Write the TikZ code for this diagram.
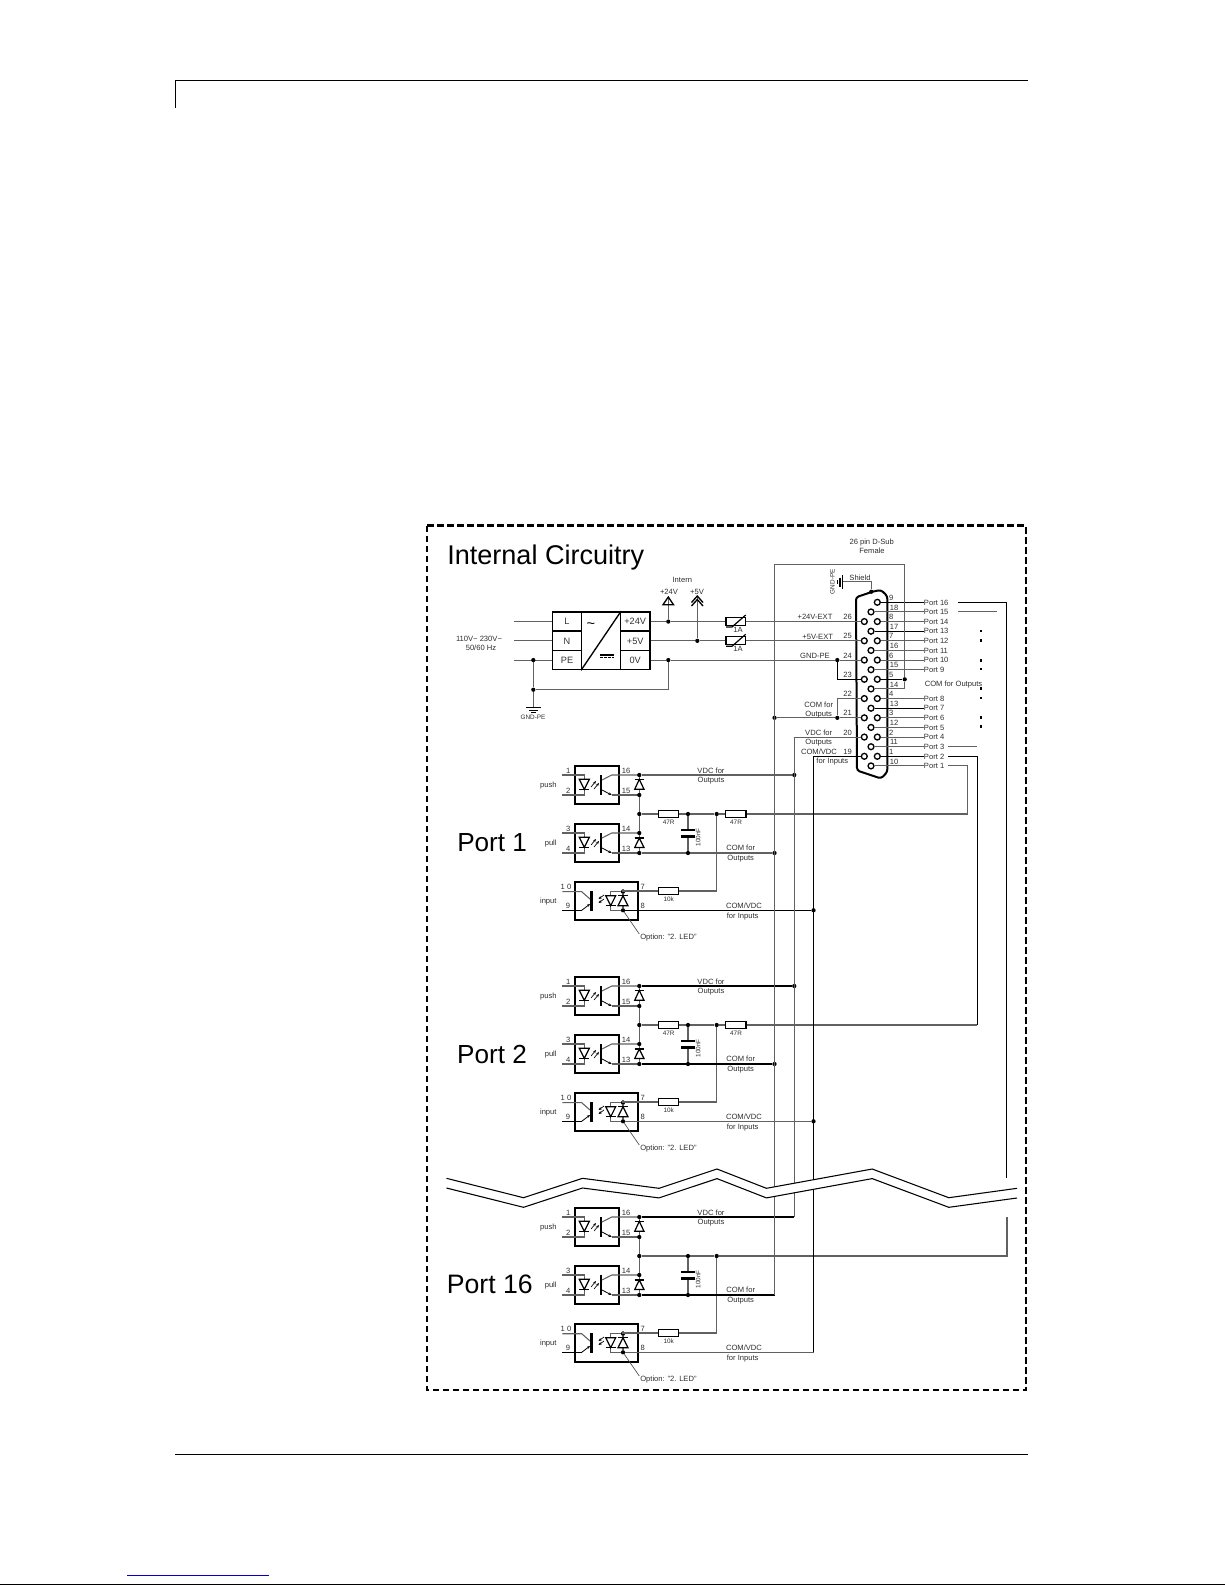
\documentclass[tikz,border=0pt]{standalone}
\usepackage{fontspec}
\setmainfont{Liberation Sans}
\usetikzlibrary{arrows.meta}
\tikzset{
 gw/.style={draw=black!62,line width=.8pt},
 bw/.style={draw=black,line width=.85pt},
 sym/.style={draw=black,line width=.9pt,line join=miter},
 thickbar/.style={draw=black,line width=2pt},
 st/.style={inner sep=0pt,font=\fontsize{5.7}{6}\selectfont,text=black!82,text height=4.1pt,text depth=0pt},
 tn/.style={inner sep=0pt,font=\fontsize{4.8}{5}\selectfont,text=black!82,text height=3.5pt,text depth=0pt},
 bigt/.style={inner sep=0pt,font=\fontsize{20}{22}\selectfont,text=black,anchor=base west},
 cellt/.style={draw=black,line width=1pt,inner sep=0pt,font=\fontsize{6.9}{7}\selectfont,text=black!80,text height=5pt,text depth=0pt},
 jdot/.style={circle,fill=black,inner sep=0pt,minimum size=3.2pt},
 pindot/.style={circle,draw=black,fill=white,line width=1pt,inner sep=0pt,minimum size=4.4pt},
 resbox/.style={rectangle,draw=black,fill=white,line width=1pt,inner sep=0pt,minimum width=15.2pt,minimum height=5.4pt},
 optobox/.style={rectangle,draw=black,line width=1.5pt,inner sep=0pt},
 varbox/.style={rectangle,draw=black,fill=white,line width=1pt,inner sep=0pt,minimum width=14.8pt,minimum height=6pt},
 smalltip/.style={-{Stealth[length=2.4pt,width=2pt]}},
}
\newcommand{\tld}{\char"007E\relax}
% one push/pull opto channel: the box is centred in its own local frame
\newcommand{\OptoOut}[4]{%
 \draw[gw] (562.3,775) -- (584.3,775) -- (584.3,795) -- (562.3,795);
 \draw[sym,fill=white] (579.3,779.3) -- (589.3,779.3) -- (584.3,789.3) -- cycle;
 \draw[sym] (579.3,789.3) -- (589.3,789.3);
 \draw[black,line width=.5pt,smalltip] (591,787) -- (596,781);
 \draw[black,line width=.5pt,smalltip] (594,789) -- (599,783);
 \draw[thickbar] (601,775) -- (601,795);
 \draw[gw] (602,780) -- (611.7,775) -- (639.3,775);
 \draw[gw] (611.7,795) -- (639.3,795);
 \draw[black,line width=.6pt,smalltip] (602,790) -- (611.7,795);
 \node[st] at (568.3,771) {#1};
 \node[st] at (568.3,790.3) {#2};
 \node[st] at (626,771) {#3};
 \node[st] at (626,790.3) {#4};
}
\newcommand{\PortUnit}[2]{%
\begin{scope}[shift={(0,#2)}]
 \node[optobox,minimum width=33pt,minimum height=29pt] (#1push) at (596.7,785) {};
 \node[optobox,minimum width=33pt,minimum height=29pt] (#1pull) at (596.7,843) {};
 \node[optobox,minimum width=47.7pt,minimum height=28.7pt] (#1input) at (606.5,900.9) {};
 \OptoOut{1}{2}{16}{15}
 \begin{scope}[shift={(0,58)}]\OptoOut{3}{4}{14}{13}\end{scope}
 \node[st] (#1tpush) at (548.3,785) {push};
 \node[st] (#1tpull) at (550.7,843) {pull};
 \node[st] (#1tinput) at (548.3,900.3) {input};
 % clamp diodes and centre node
 \node[jdot] (#1j16) at (639.3,775) {};
 \node[jdot] (#1j15) at (639.3,795) {};
 \node[jdot] (#1jm) at (639.3,814) {};
 \node[jdot] (#1j14) at (639.3,833) {};
 \node[jdot] (#1j13) at (639.3,853) {};
 \draw[gw] (#1j16) -- (#1j15) -- (#1jm) -- (#1j14) -- (#1j13);
 \draw[sym,fill=white] (634.7,789.3) -- (644,789.3) -- (639.3,779.3) -- cycle;
 \draw[sym] (634.7,779.3) -- (644,779.3);
 \draw[sym,fill=white] (634.7,847.5) -- (644,847.5) -- (639.3,838) -- cycle;
 \draw[sym] (634.7,838) -- (644,838);
 % filter capacitor
 \node[jdot] (#1jc) at (688,814) {};
 \node[jdot] (#1jb) at (688,853) {};
 \coordinate (#1capa) at (688,830);
 \coordinate (#1capb) at (688,836.7);
 \draw[gw] (#1jc) -- (#1capa);
 \draw[gw] (#1capb) -- (#1jb);
 \draw[thickbar] (681,830) -- (695,830);
 \draw[thickbar] (681,836.7) -- (695,836.7);
 \node[tn,rotate=90] at (698,837.3) {100nF};
 \node[jdot] (#1jk) at (716.7,814) {};
 % input channel
 \draw[gw] (562.3,891.7) -- (581.7,891.7) -- (590,899);
 \draw[bw] (562.3,910.3) -- (581.7,910.3);
 \draw[black,line width=.6pt,smalltip] (581.7,910.3) -- (590,904);
 \draw[thickbar] (591.7,891) -- (591.7,911);
 \draw[black,line width=.5pt,smalltip] (604,895) -- (598.5,899);
 \draw[black,line width=.5pt,smalltip] (604,899) -- (598.5,903);
 \node[jdot] (#1led1) at (623,891.7) {};
 \node[jdot] (#1led2) at (623,910.3) {};
 \coordinate (#1lt) at (610.7,891.7);
 \coordinate (#1lb) at (610.7,910.3);
 \draw[gw] (#1led1) -- (#1lt) -- (#1lb) -- (#1led2) -- (#1led1);
 \draw[sym,fill=white] (605.7,895.7) -- (615.7,895.7) -- (610.7,905.7) -- cycle;
 \draw[sym] (605.7,905.7) -- (615.7,905.7);
 \draw[sym,fill=white] (618,905.7) -- (628,905.7) -- (623,895.7) -- cycle;
 \draw[sym] (618,895.7) -- (628,895.7);
 \node[resbox] (#1R3) at (668.5,891) {};
 \node[tn] at (668.7,898.7) {10k};
 \coordinate (#1kc) at (716.7,891);
 \draw[gw] (#1led1) -- (#1R3 -| #1led1) -- (#1R3);
 \draw[gw] (#1R3) -- (#1kc) -- (#1jk);
 \node[st] at (566,886.7) {1 0};
 \node[st] at (568,906) {9};
 \node[st] at (642.7,886.7) {7};
 \node[st] at (642.7,906) {8};
 \coordinate (#1lead) at (639.3,934);
 \draw[black!70,line width=.5pt] (#1led2) -- (#1lead);
 \node[st,anchor=west] (#1opt) at (640,936.7) {Option: "2. LED"};
 \node[st] at (711,770.7) {VDC for};
 \node[st] at (711,780) {Outputs};
 \node[st] at (740.7,848) {COM for};
 \node[st] at (740.7,857.3) {Outputs};
 \node[st] at (744,905.3) {COM/VDC};
 \node[st] at (742.7,915.3) {for Inputs};
\end{scope}}
\begin{document}
\begin{tikzpicture}[x=0.75pt,y=-0.75pt]
\useasboundingbox (0,0) rectangle (1225,1585);
% page furniture
\coordinate (hv) at (175.3,107.7);
\coordinate (hc) at (175.3,80.7);
\coordinate (hr) at (1028,80.7);
\draw[black,line width=.9pt] (hv) -- (hc) -- (hr);
\coordinate (fl) at (175.3,1454.3);
\coordinate (fr) at (1028,1454.3);
\draw[black,line width=.9pt] (fl) -- (fr);
\coordinate (bl) at (127,1575.3);
\coordinate (br) at (269,1575.3);
\draw[blue!80!black,line width=.9pt] (bl) -- (br);
\coordinate (el) at (0,1584.3);
\coordinate (er) at (1225,1584.3);
\draw[black,line width=.9pt] (el) -- (er);
% frame
\draw[black,line width=1.7pt,dash pattern=on 5pt off 2.5pt] (427,525.5) rectangle (1026,1390);
\node[bigt,font=\fontsize{20.3}{22}\selectfont] (title) at (447,564) {Internal Circuitry};
\node[bigt,font=\fontsize{19.6}{22}\selectfont] (tp1) at (457,851.7) {Port 1};
\node[bigt,font=\fontsize{19.6}{22}\selectfont] (tp2) at (456.9,1063.3) {Port 2};
\node[bigt] (tp16) at (446.5,1293.3) {Port 16};
% power supply
\node[cellt,minimum width=22pt,minimum height=14.4pt] (cL) at (567,621.55) {L};
\node[cellt,minimum width=22pt,minimum height=14.4pt] (cN) at (567,640.8) {N};
\node[cellt,minimum width=22pt,minimum height=14.4pt] (cPE) at (567,660.05) {PE};
\node[cellt,minimum width=29pt,minimum height=43.3pt] (cMid) at (601,640.8) {};
\node[cellt,minimum width=22.3pt,minimum height=14.4pt] (c24) at (635.2,621.55) {+24V};
\node[cellt,minimum width=22.3pt,minimum height=14.4pt] (c5) at (635.2,640.8) {+5V};
\node[cellt,minimum width=22.3pt,minimum height=14.4pt] (c0) at (635.2,660.05) {0V};
\draw[black,line width=1pt] (cMid.south west) -- (cMid.north east);
\node[inner sep=0pt,font=\fontsize{11}{11}\selectfont] (tilde) at (591,626) {\tld};
\draw[black,line width=.8pt] (600,655) -- (614,655);
\draw[black,line width=.8pt,dash pattern=on 2pt off 1pt] (600,657.5) -- (614,657.5);
\coordinate (inL) at (514,621.55);
\coordinate (inN) at (514,640.8);
\coordinate (inPE) at (514,660.05);
\draw[gw] (inL) -- (cL);
\draw[gw] (inN) -- (cN);
\draw[gw] (inPE) -- (cPE);
\node[st] (mains1) at (479,638.3) {110V\tld{} 230V\tld};
\node[st] (mains2) at (481,647.7) {50/60 Hz};
\node[jdot] (dPE) at (533.3,660.05) {};
\node[jdot] (dPE2) at (533.3,689.7) {};
\coordinate (gnd) at (533.3,707.7);
\coordinate (ret) at (668.3,689.7);
\node[jdot] (d24) at (668.3,621.55) {};
\node[jdot] (d5) at (697.3,640.8) {};
\node[jdot] (d0) at (668.3,660.05) {};
\draw[gw] (dPE) -- (dPE2) -- (gnd);
\draw[gw] (dPE2) -- (ret) -- (d0);
\draw[black,line width=.9pt] (526,707.7) -- (541,707.7);
\draw[black,line width=.8pt] (529,710.3) -- (538,710.3);
\draw[black,line width=.7pt] (531,712.7) -- (536,712.7);
\node[tn] (gndt) at (533,717) {GND-PE};
% internal rails
\coordinate (a24) at (668.3,597);
\coordinate (a5) at (697.3,596);
\draw[gw] (a24) -- (d24);
\draw[gw] (a5) -- (d5);
\draw[black,line width=1pt] (663,604.7) -- (668.3,597) -- (673.5,604.7) -- cycle;
\draw[black,line width=1pt] (691.5,602.5) -- (697.3,596) -- (703,602.5);
\draw[black,line width=1pt] (691.5,606) -- (697.3,599.5) -- (703,606);
\node[st] (tint) at (682.3,580) {Intern};
\node[st] (t24) at (669,591.7) {+24V};
\node[st] (t5) at (697,591.7) {+5V};
% varistors
\node[varbox] (v1) at (735.8,621.55) {};
\node[varbox] (v2) at (735.8,640.8) {};
\foreach \yy in {0,19.25}{
 \draw[black,line width=.9pt] (726,627+\yy) -- (732,627+\yy) -- (745.7,615+\yy);
}
\node[st] (f1) at (738,629.5) {1A};
\node[st] (f2) at (738,648.8) {1A};
\draw[gw] (c24) -- (d24) -- (v1);
\draw[gw] (c5) -- (d5) -- (v2);
\draw[gw] (c0) -- (d0);
% D-sub connector
\node[st] (ds1) at (871.7,541.7) {26 pin D-Sub};
\node[st] (ds2) at (872,551) {Female};
\draw[black,line width=1.5pt,rounded corners=2pt] (856,597.3) -- (873,591.5) -- (881,590) -- (887.3,596) -- (887.3,772) -- (881,778.5) -- (857,770.5) -- cycle;
\foreach \n/\yy in {9/602.3,8/621.55,7/640.8,6/660.05,5/679.3,4/698.55,3/717.8,2/737.05,1/756.3}{
 \node[pindot] (pin\n) at (877.3,\yy) {};
 \node[st] at (891.3,\yy-4.6) {\n};
}
\foreach \n/\yy in {18/611.9,17/631.2,16/650.4,15/669.7,14/688.9,13/708.2,12/727.4,11/746.7,10/765.9}{
 \node[pindot] (pin\n) at (871,\yy) {};
 \node[st] at (894,\yy-4.6) {\n};
}
\foreach \n/\yy in {26/621.55,25/640.8,24/660.05,23/679.3,22/698.55,21/717.8,20/737.05,19/756.3}{
 \node[pindot] (pin\n) at (864.3,\yy) {};
 \node[st] at (847.7,\yy-4.6) {\n};
}
% port labels and their wires
\foreach \n/\yy/\tx/\col in {9/602.3/Port 16/bw,18/611.9/Port 15/gw,8/621.55/Port 14/gw,17/631.2/Port 13/bw,7/640.8/Port 12/gw,16/650.4/Port 11/gw,6/660.05/Port 10/gw,15/669.7/Port 9/gw,4/698.55/Port 8/gw,13/708.2/Port 7/bw,3/717.8/Port 6/gw,12/727.4/Port 5/gw,2/737.05/Port 4/gw,11/746.7/Port 3/gw,1/756.3/Port 2/bw,10/765.9/Port 1/gw}{
 \node[st,anchor=west] (lab\n) at (923.7,\yy) {\tx};
 \draw[\col] (pin\n) -- (lab\n);
}
\node[st,anchor=west] (comout) at (924.5,684) {COM for Outputs};
\foreach \yy in {631,640.5,660.3,669,688.3,697.7,717.3,726.3}{
 \fill[black] (980,\yy-1.2) rectangle (982,\yy+1.2);
}
% shield
\coordinate (shA) at (842.7,581.7);
\coordinate (shB) at (871.3,581.7);
\node[jdot] (shC) at (871.3,591.7) {};
\draw[gw] (shA) -- (shB) -- (shC);
\draw[black,line width=.9pt] (842.7,575) -- (842.7,589);
\draw[black,line width=.8pt] (840,577.5) -- (840,586.5);
\draw[black,line width=.7pt] (837.7,580) -- (837.7,584);
\node[tn,rotate=90] (shg) at (832.3,581.7) {GND-PE};
\node[st] (sht) at (860,578) {Shield};
% left side of the connector
\node[st] (e24) at (815,616.7) {+24V-EXT};
\node[st] (e5) at (817.7,636.3) {+5V-EXT};
\node[st] (eg) at (815,655.7) {GND-PE};
\node[st] at (818.7,704.7) {COM for};
\node[st] at (818.7,714) {Outputs};
\node[st] at (818.7,732.7) {VDC for};
\node[st] at (818.7,741.5) {Outputs};
\node[st] at (819,751.7) {COM/VDC};
\node[st] at (832.3,760.7) {for Inputs};
\draw[gw] (v1) -- (pin26);
\draw[gw] (v2) -- (pin25);
\node[jdot] (jg) at (837.3,660.05) {};
\draw[gw] (d0) -- (jg) -- (pin24);
\coordinate (c23) at (837.3,679.3);
\draw[bw] (jg) -- (c23) -- (pin23);
\coordinate (c22) at (837.3,698.55);
\node[jdot] (j21) at (837.3,717.8) {};
\draw[gw] (pin22) -- (c22) -- (j21) -- (pin21);
\node[jdot] (jcomtop) at (774.5,717.8) {};
\draw[gw] (jcomtop) -- (j21);
% right-hand return wires
\coordinate (cTopL) at (774.5,564.3);
\coordinate (cTopR) at (904.7,564.3);
\coordinate (c14) at (904.7,688.9);
\node[jdot] (j5) at (904.7,679.3) {};
\draw[gw] (cTopL) -- (cTopR) -- (j5) -- (c14) -- (pin14);
\draw[bw] (pin5) -- (j5);
% port channels
\PortUnit{pa}{0}
\PortUnit{pb}{211}
\PortUnit{pc}{442}
% port 1 specifics
\node[resbox] (paR1) at (668.5,814) {};
\node[resbox] (paR2) at (735.8,814) {};
\node[tn] at (668.7,821.7) {47R};
\node[tn] at (736,821.7) {47R};
\node[jdot] (dv1) at (794.3,775) {};
\node[jdot] (dc1) at (774.5,853) {};
\node[jdot] (di1) at (813.5,910.3) {};
\coordinate (pa1) at (967.7,814);
\coordinate (pa2) at (967.7,765.9);
\coordinate (pa3) at (948.3,765.9);
\draw[gw] (paj16) -- (dv1);
\draw[gw] (pajm) -- (paR1) -- (pajc) -- (pajk) -- (paR2) -- (pa1) -- (pa2) -- (pa3);
\draw[gw] (paj13) -- (pajb) -- (dc1);
\draw[bw] (paled2) -- (di1);
% port 2 specifics
\node[resbox] (pbR1) at (668.5,1025) {};
\node[resbox] (pbR2) at (735.8,1025) {};
\node[tn] at (668.7,1032.7) {47R};
\node[tn] at (736,1032.7) {47R};
\node[jdot] (dv2) at (794.3,986) {};
\node[jdot] (dc2) at (774.5,1064) {};
\node[jdot] (di2) at (813.5,1121.3) {};
\coordinate (pb1) at (977.3,1025);
\coordinate (pb2) at (977.3,756.3);
\coordinate (pb3) at (948.3,756.3);
\draw[bw] (pbj16) -- (dv2);
\draw[gw] (pbjm) -- (pbR1) -- (pbjc) -- (pbjk) -- (pbR2) -- (pb1);
\draw[bw] (pb1) -- (pb2) -- (pb3);
\draw[bw] (pbj13) -- (pbjb) -- (dc2);
\draw[gw] (pbled2) -- (di2);
% port 16 specifics
\coordinate (cv) at (794.3,1217);
\coordinate (cc) at (774.5,1295);
\coordinate (ci) at (813.5,1352.3);
\coordinate (pc1) at (1007,1256);
\coordinate (pc2) at (1007,1217);
\draw[bw] (pcj16) -- (cv);
\draw[gw] (pcjm) -- (pcjc) -- (pcjk) -- (pc1) -- (pc2);
\draw[bw] (pcj13) -- (pcjb) -- (cc);
\draw[gw] (pcled2) -- (ci);
% buses
\coordinate (b20) at (794.3,737.05);
\coordinate (b19) at (813.5,756.3);
\draw[gw] (cTopL) -- (cc);
\draw[gw] (pin20) -- (b20) -- (cv);
\draw[bw] (pin19) -- (b19) -- (ci);
% stub wires at the right
\coordinate (p16a) at (958.3,602.3);
\coordinate (p16b) at (1006.6,602.3);
\coordinate (p16c) at (1006.6,1178);
\draw[bw] (p16a) -- (p16b) -- (p16c);
\coordinate (p15a) at (958.3,611.9);
\coordinate (p15b) at (996.7,611.9);
\draw[gw] (p15a) -- (p15b);
\coordinate (p3a) at (948.3,746.7);
\coordinate (p3b) at (977.3,746.7);
\draw[gw] (p3a) -- (p3b);
% break in the drawing
\fill[white] (446.5,1178.3) -- (523.5,1197.7) -- (582.5,1178.3) -- (659,1188.3) -- (717,1169) -- (766.4,1188.3) -- (872.2,1169) -- (948.8,1197.7) -- (1017,1188.3) -- (1017,1198) -- (948.8,1207.3) -- (872.2,1178.6) -- (766.4,1197.9) -- (717,1178.6) -- (659,1197.9) -- (582.5,1188) -- (523.5,1207.3) -- (446.5,1188) -- cycle;
\draw[black,line width=.8pt] (446.5,1178.3) -- (523.5,1197.7) -- (582.5,1178.3) -- (659,1188.3) -- (717,1169) -- (766.4,1188.3) -- (872.2,1169) -- (948.8,1197.7) -- (1017,1188.3);
\draw[black,line width=.8pt] (446.5,1188) -- (523.5,1207.3) -- (582.5,1188) -- (659,1197.9) -- (717,1178.6) -- (766.4,1197.9) -- (872.2,1178.6) -- (948.8,1207.3) -- (1017,1198);
\end{tikzpicture}
\end{document}
